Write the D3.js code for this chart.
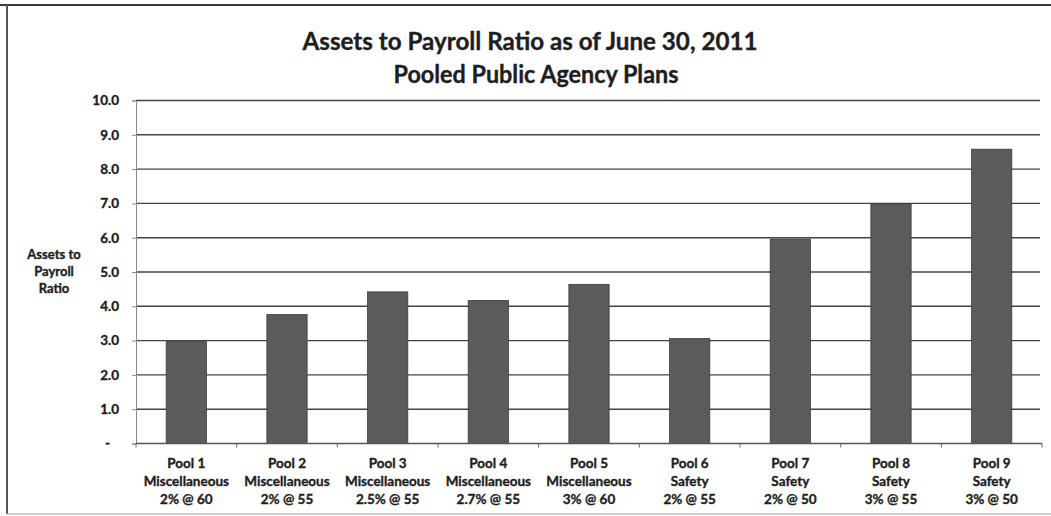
<!DOCTYPE html>
<html>
<head>
<meta charset="utf-8">
<script src="https://cdn.jsdelivr.net/npm/d3@7"></script>
<style>
  html, body { margin: 0; padding: 0; background: #fff; }
  svg { display: block; }
  text { font-family: Lato, "Open Sans", "DejaVu Sans", sans-serif; font-weight: 700; fill: #1e1e1e;
         stroke: #1e1e1e; stroke-width: 0.35px; }
</style>
</head>
<body>
<svg id="chart" width="1051" height="516"></svg>
<script>
// Pool categories, split into the three label lines shown under each bar
const poolNames = ["Pool 1", "Pool 2", "Pool 3", "Pool 4", "Pool 5", "Pool 6", "Pool 7", "Pool 8", "Pool 9"];
const planTypes = ["Miscellaneous", "Miscellaneous", "Miscellaneous", "Miscellaneous", "Miscellaneous",
                   "Safety", "Safety", "Safety", "Safety"];
const formulas  = ["2% @ 60", "2% @ 55", "2.5% @ 55", "2.7% @ 55", "3% @ 60",
                   "2% @ 55", "2% @ 50", "3% @ 55", "3% @ 50"];

// Assets to payroll ratio for each pool
const ratios = [2.97, 3.76, 4.42, 4.17, 4.64, 3.06, 5.96, 6.98, 8.58];

// Value axis ticks
const yTicks = [0, 1, 2, 3, 4, 5, 6, 7, 8, 9, 10];

const titleLines = ["Assets to Payroll Ratio as of June 30, 2011", "Pooled Public Agency Plans"];
const yTitleLines = ["Assets to", "Payroll", "Ratio"];

const svg = d3.select("#chart");

// Outer frame of the chart area
svg.append("line").attr("x1", 0).attr("x2", 1051).attr("y1", 5).attr("y2", 5)
  .attr("stroke", "#3a3a3a").attr("stroke-width", 2);
svg.append("line").attr("x1", 7).attr("x2", 7).attr("y1", 5).attr("y2", 514)
  .attr("stroke", "#555").attr("stroke-width", 2);
svg.append("line").attr("x1", 7).attr("x2", 1051).attr("y1", 514).attr("y2", 514)
  .attr("stroke", "#bdbdbd").attr("stroke-width", 1.5);

const plot = { left: 136, right: 1042, top: 100.5, bottom: 443.5 };

const x = d3.scaleBand()
  .domain(poolNames)
  .range([plot.left, plot.right])
  .paddingInner(0.6)
  .paddingOuter(0.3);

const y = d3.scaleLinear()
  .domain([0, 10])
  .range([plot.bottom, plot.top]);

// Horizontal gridlines
svg.append("g")
  .selectAll("line")
  .data(yTicks.filter(d => d > 0))
  .join("line")
  .attr("x1", plot.left)
  .attr("x2", plot.right - 2)
  .attr("y1", d => y(d))
  .attr("y2", d => y(d))
  .attr("stroke", "#444")
  .attr("stroke-width", 1.4);

// Value axis
const yAxis = svg.append("g")
  .attr("transform", `translate(${plot.left},0)`)
  .call(d3.axisLeft(y)
    .tickValues(yTicks)
    .tickSize(4)
    .tickPadding(13)
    .tickFormat(d => d === 0 ? "-" : d3.format(".1f")(d)));
yAxis.select(".domain").attr("stroke", "#8a8a8a").attr("stroke-width", 1);
yAxis.selectAll(".tick line").attr("stroke", "#8a8a8a");
yAxis.selectAll(".tick text")
  .attr("font-size", 13.5)
  .attr("fill", "#1e1e1e")
  .style("font-family", "Lato, 'Open Sans', sans-serif")
  .style("font-weight", 700);
yAxis.selectAll(".tick text").filter(d => d === 0).attr("dx", -9);

// Bars
svg.append("g")
  .selectAll("rect")
  .data(ratios)
  .join("rect")
  .attr("x", (d, i) => x(poolNames[i]))
  .attr("width", x.bandwidth())
  .attr("y", d => y(d))
  .attr("height", d => y(0) - y(d))
  .attr("fill", "#5b5b5b")
  .attr("stroke", "#3c3c3c")
  .attr("stroke-width", 0.8);

// Category axis with tick marks between categories
const xAxisY = y(0);
svg.append("line")
  .attr("x1", plot.left).attr("x2", plot.right)
  .attr("y1", xAxisY).attr("y2", xAxisY)
  .attr("stroke", "#555").attr("stroke-width", 1.5);
const step = x.step();
svg.append("g")
  .selectAll("line")
  .data(d3.range(poolNames.length + 1))
  .join("line")
  .attr("x1", i => plot.left + i * step)
  .attr("x2", i => plot.left + i * step)
  .attr("y1", xAxisY)
  .attr("y2", xAxisY + 4)
  .attr("stroke", "#666");

// Category labels (three lines each)
const labels = svg.append("g")
  .selectAll("text")
  .data(poolNames)
  .join("text")
  .attr("text-anchor", "middle")
  .attr("font-size", 13.5)
  .attr("x", d => x(d) + x.bandwidth() / 2);
labels.append("tspan").attr("y", 468).attr("x", d => x(d) + x.bandwidth() / 2).text(d => d);
labels.append("tspan").attr("y", 486).attr("x", d => x(d) + x.bandwidth() / 2).text((d, i) => planTypes[i]);
labels.append("tspan").attr("y", 504).attr("x", d => x(d) + x.bandwidth() / 2).text((d, i) => formulas[i]);

// Value axis title
svg.append("text")
  .attr("text-anchor", "middle")
  .attr("font-size", 13)
  .selectAll("tspan")
  .data(yTitleLines)
  .join("tspan")
  .attr("x", 54)
  .attr("y", (d, i) => 259 + i * 17)
  .text(d => d);

// Chart title
svg.append("text")
  .attr("x", 530).attr("y", 50)
  .attr("text-anchor", "middle")
  .attr("font-size", 24)
  .attr("textLength", 455)
  .attr("lengthAdjust", "spacingAndGlyphs")
  .text(titleLines[0]);
svg.append("text")
  .attr("x", 536).attr("y", 83)
  .attr("text-anchor", "middle")
  .attr("font-size", 24)
  .attr("textLength", 285)
  .attr("lengthAdjust", "spacingAndGlyphs")
  .text(titleLines[1]);
</script>
</body>
</html>
